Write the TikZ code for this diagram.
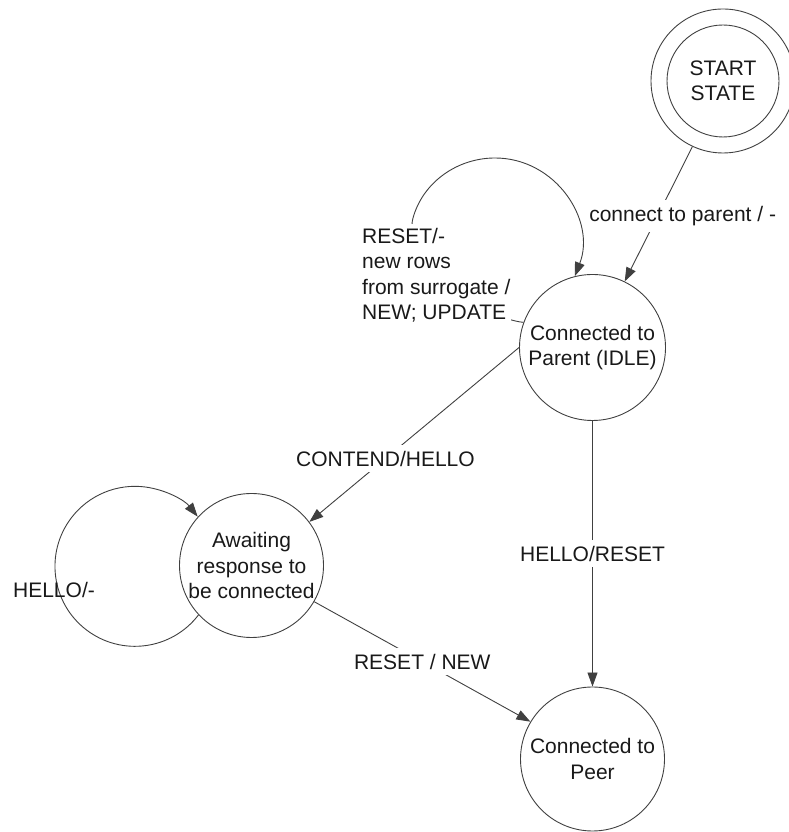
\documentclass[tikz,border=0pt]{standalone}
\usepackage{fontspec}
\setmainfont{Liberation Sans}
\usetikzlibrary{arrows.meta}
\begin{document}
\begin{tikzpicture}[x=1pt,y=1pt,
  txt/.style={text=black!90, font=\fontsize{21}{25.5}\selectfont},
  stnode/.style={txt, circle, draw=black!75, line width=0.9pt, inner sep=0pt, align=center},
  conn/.style={draw=black!75, line width=0.9pt, -{Triangle[length=14pt,width=10pt]}},
  elab/.style={txt, fill=white, inner sep=6pt},
  looplab/.style={txt, fill=white, inner xsep=1pt, inner ysep=4pt, align=left},
  plainlab/.style={txt, inner sep=0pt}]
\useasboundingbox (0,0) rectangle (788,832);
% states
\node[stnode, minimum size=144pt] (startring) at (723,751) {};
\node[stnode, minimum size=112pt] (start) at (723,751) {START\\STATE};
\node[stnode, minimum size=146pt] (parent) at (592.5,484.5) {Connected to\\Parent (IDLE)};
\node[stnode, minimum size=144pt] (await) at (251.5,266.5) {Awaiting\\response to\\be connected};
\node[stnode, minimum size=144pt] (peer) at (592.5,73) {Connected to\\Peer};
% transitions
\draw[conn] (startring.-115) -- node[elab, pos=0.513, xshift=25pt] {connect to parent / -} (parent.64);
\draw[conn] (parent.160) .. controls (480,514) and (402,576) .. (413,614)
  .. controls (423,650) and (457.5,674) .. (495,674)
  .. controls (555.8,674) and (596.4,611.4) .. (parent.104);
\node[looplab, anchor=west] (looplbl) at (361,557) {RESET/-\\new rows\\from surrogate /\\NEW; UPDATE};
\draw[conn] (parent.180) -- node[elab, pos=0.637] {CONTEND/HELLO} (await.37);
\draw[conn] (parent.south) -- node[elab, pos=0.5] {HELLO/RESET} (peer.north);
\draw[conn] (await.-30.6) -- node[elab, pos=0.5] {RESET / NEW} (peer.149.8);
\draw[conn] (await.223.3) arc[start angle=-37.4, end angle=-321.6, radius=80];
\node[plainlab, anchor=base] (hellolbl) at (54,234) {HELLO/-};
\end{tikzpicture}
\end{document}
